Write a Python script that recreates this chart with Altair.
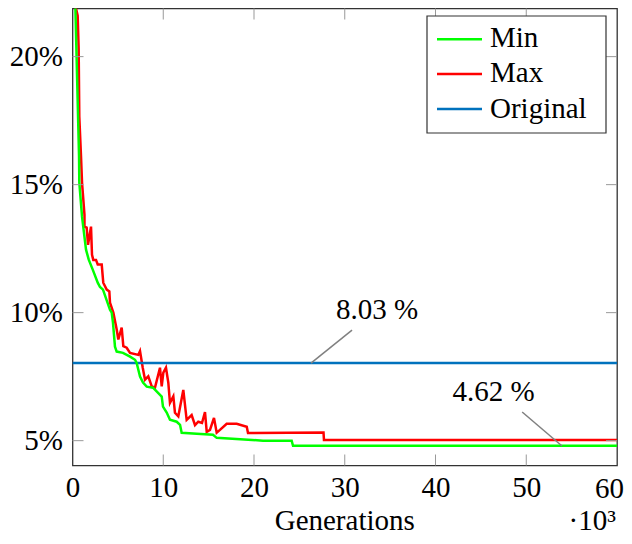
import altair as alt
import pandas as pd

# ---- data (generations in thousands, values in %) ----
min_x = [0, 0.31, 0.72, 0.75, 1.05, 1.49, 1.79, 2.23, 2.78, 3.03, 3.36, 4.13, 4.32, 4.46, 4.68, 4.87,
         5.56, 6.34, 6.89, 7.07, 7.44, 7.77, 8.18, 8.87, 9.83, 9.97, 10.38, 10.74, 11.48, 11.85, 12.03,
         13.69, 15.48, 15.89, 20.99, 24.15, 24.3, 60]
min_y = [23.0, 22.0, 16.1, 15.08, 13.75, 12.46, 12.07, 11.68, 11.17, 11.0, 10.9, 10.11, 10.0, 9.61, 8.67, 8.48,
         8.43, 8.28, 8.16, 8.04, 7.5, 7.27, 7.11, 7.07, 6.72, 6.33, 6.1, 5.82, 5.74, 5.62, 5.31,
         5.27, 5.23, 5.11, 5.0, 5.0, 4.8, 4.8]

max_x = [0, 0.31, 0.57, 0.68, 0.75, 0.94, 1.05, 1.32, 1.32, 1.56, 1.71, 2.04, 2.15, 2.29, 2.59, 2.78,
         3.22, 3.39, 3.77, 4.06, 4.13, 4.5, 4.87, 5.05, 5.42, 5.6, 5.97, 6.34, 7.25, 7.44, 7.74, 7.99,
         8.35, 8.73, 9.09, 9.64, 9.83, 10.01, 10.3, 10.56, 10.74, 11.11, 11.29, 11.66, 12.21, 12.58,
         13.13, 13.5, 13.86, 14.27, 14.6, 14.79, 15.15, 15.59, 15.89, 16.25, 16.99, 18.09, 19.2, 19.34,
         27.66, 27.71, 60]
max_y = [23.0, 22.0, 21.6, 20.3, 17.65, 16.09, 15.08, 13.82, 13.36, 13.32, 12.65, 13.36, 12.26, 12.06, 12.06, 11.88,
         11.88, 11.17, 10.9, 10.83, 10.39, 10.0, 9.34, 8.95, 9.42, 8.69, 8.63, 8.43, 8.35, 8.5, 7.85, 7.38,
         7.51, 7.12, 7.07, 7.85, 7.12, 7.66, 7.85, 7.26, 6.48, 6.73, 6.09, 5.95, 6.98, 5.81,
         6.0, 5.61, 5.74, 5.69, 6.12, 5.34, 5.42, 5.89, 5.31, 5.42, 5.66, 5.66, 5.54, 5.3,
         5.32, 5.03, 5.03]

orig_x = [0, 60]
orig_y = [8.03, 8.03]

series = ["Min", "Max", "Original"]
colors = ["#00ff00", "#ff0000", "#0072bd"]

x_ticks = [0, 10, 20, 30, 40, 50]
x_last_tick = [60]
y_ticks = [5, 10, 15, 20]
inner_x_ticks = [10, 20, 30, 40, 50]

annot_text = ["8.03 %", "4.62 %"]
annot_x = [33.55, 46.4]
annot_y = [9.77, 6.55]
ptr_x = [30.8, 49.55]
ptr_y = [9.32, 6.12]
ptr_x2 = [26.28, 53.94]
ptr_y2 = [8.03, 4.79]

x_title = "Generations"
x_mult = "·10³"

# ---- layout ----
W = 544.5
H = 457
FONT = "'Liberation Serif'"
FS = 29

xs = alt.Scale(domain=[0, 60], nice=False, zero=False)
ys = alt.Scale(domain=[4.03, 21.88], nice=False, zero=False)
cs = alt.Scale(domain=series, range=colors)

x_axis = alt.Axis(values=x_ticks, tickSize=0, domain=False, grid=False, title=None,
                  labelFont=FONT, labelFontSize=FS, labelColor="black", labelPadding=8,
                  labelFlush=False)
y_axis = alt.Axis(values=y_ticks, tickSize=0, domain=False, grid=False, title=None,
                  labelFont=FONT, labelFontSize=FS, labelColor="black", labelPadding=10,
                  labelExpr="datum.value + '%'")


def series_df(name, xv, yv):
    return pd.DataFrame({"x": xv, "y": yv, "s": name, "i": list(range(len(xv)))})


def line_layer(df):
    return alt.Chart(df).mark_line(strokeWidth=2.5, clip=True).encode(
        x=alt.X("x:Q", scale=xs, axis=x_axis),
        y=alt.Y("y:Q", scale=ys, axis=y_axis),
        color=alt.Color("s:N", scale=cs, legend=None),
        order=alt.Order("i:Q"),
    )


max_layer = line_layer(series_df("Max", max_x, max_y))
orig_layer = line_layer(series_df("Original", orig_x, orig_y))
min_layer = line_layer(series_df("Min", min_x, min_y))

tick_color = "#999999"
xt_df = pd.DataFrame({"x": inner_x_ticks})
yt_df = pd.DataFrame({"y": y_ticks})
xt_bottom = alt.Chart(xt_df).mark_rule(color=tick_color, strokeWidth=1).encode(
    x=alt.X("x:Q", scale=xs, axis=x_axis), y=alt.value(H), y2=alt.value(H - 11))
xt_top = alt.Chart(xt_df).mark_rule(color=tick_color, strokeWidth=1).encode(
    x=alt.X("x:Q", scale=xs, axis=x_axis), y=alt.value(0), y2=alt.value(11))
yt_left = alt.Chart(yt_df).mark_rule(color=tick_color, strokeWidth=1).encode(
    y=alt.Y("y:Q", scale=ys, axis=y_axis), x=alt.value(0), x2=alt.value(11))
yt_right = alt.Chart(yt_df).mark_rule(color=tick_color, strokeWidth=1).encode(
    y=alt.Y("y:Q", scale=ys, axis=y_axis), x=alt.value(W), x2=alt.value(W - 11))

# last x tick label, kept inside the page edge
last_lbl = alt.Chart(pd.DataFrame({"x": x_last_tick})).mark_text(
    font=FONT, fontSize=FS, align="right", baseline="alphabetic", color="black", dx=7
).encode(x=alt.X("x:Q", scale=xs, axis=x_axis), y=alt.value(H + 32.5),
         text=alt.Text("x:Q", format="d"))

ann_df = pd.DataFrame({"t": annot_text, "x": annot_x, "y": annot_y,
                       "px": ptr_x, "py": ptr_y, "px2": ptr_x2, "py2": ptr_y2})
pointers = alt.Chart(ann_df).mark_rule(color="#808080", strokeWidth=1.5).encode(
    x=alt.X("px:Q", scale=xs, axis=x_axis), y=alt.Y("py:Q", scale=ys, axis=y_axis),
    x2="px2:Q", y2="py2:Q")
ann_text = alt.Chart(ann_df).mark_text(font=FONT, fontSize=FS, align="center",
                                       baseline="alphabetic", color="black").encode(
    x=alt.X("x:Q", scale=xs, axis=x_axis), y=alt.Y("y:Q", scale=ys, axis=y_axis), text="t:N")


def label(txt, x, y, size=FS, align="left"):
    return alt.Chart(pd.DataFrame({"t": [txt]})).mark_text(
        font=FONT, fontSize=size, align=align, baseline="alphabetic", color="black"
    ).encode(x=alt.value(x), y=alt.value(y), text="t:N")


title_text = label(x_title, W / 2, 521, align="center")
mult_text = label(x_mult, 496, 521)

# ---- legend (drawn box) ----
LX0, LX1, LY0, LY1 = 354.5, 533.5, 7.5, 124.5
leg_box = alt.Chart(pd.DataFrame({"a": [0]})).mark_rect(
    fill="white", stroke="#333333", strokeWidth=1.2
).encode(x=alt.value(LX0), x2=alt.value(LX1), y=alt.value(LY0), y2=alt.value(LY1))
leg_layers = [leg_box]
row_line_y = [30.8, 65.5, 100.5]
row_text_y = [38.5, 73.5, 109]
for k, name in enumerate(series):
    leg_layers.append(
        alt.Chart(pd.DataFrame({"s": [name]})).mark_rule(strokeWidth=2.5).encode(
            x=alt.value(364.5), x2=alt.value(409.5), y=alt.value(row_line_y[k]),
            color=alt.Color("s:N", scale=cs, legend=None))
    )
    leg_layers.append(label(name, 417.5, row_text_y[k]))

chart = alt.layer(
    max_layer, orig_layer, min_layer,
    xt_bottom, xt_top, yt_left, yt_right, last_lbl,
    pointers, ann_text, title_text, mult_text,
    *leg_layers,
).properties(
    width=W, height=H,
    autosize=alt.AutoSizeParams(type="none"),
    padding={"left": 64.5, "top": 0.5, "right": 7, "bottom": 70.5},
    background="white",
).configure_view(stroke="#333333", strokeWidth=1.3)

chart.save("out.html", embed_options={"renderer": "svg", "actions": False})
